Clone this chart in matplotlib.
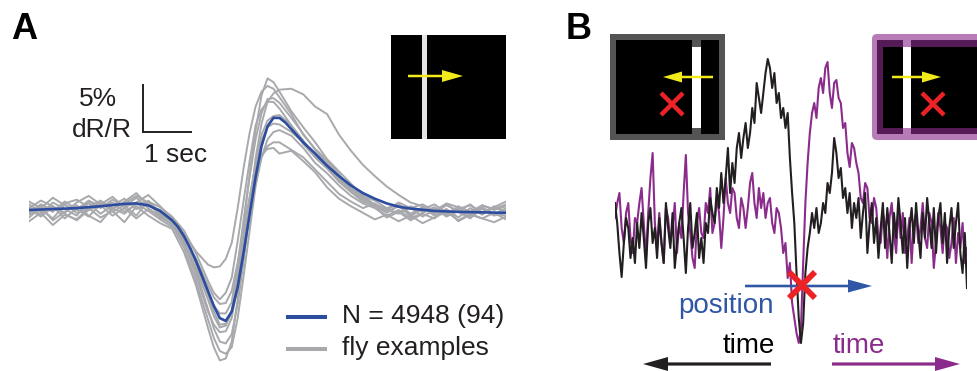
import matplotlib
matplotlib.use('Agg')
import numpy as np
import matplotlib.pyplot as plt
from matplotlib.patches import Rectangle, FancyArrow, FancyBboxPatch, PathPatch
from matplotlib.path import Path

plt.rcParams['font.family'] = ['Liberation Sans', 'DejaVu Sans']

# ---- panel A data: dR/R (%) vs time (s) ----
mean_time = [0, 0.5, 1.0, 1.5, 2.0, 2.25, 2.5, 2.75, 3.0, 3.125, 3.25, 3.375, 3.5, 3.625,
             3.75, 3.875, 4.0, 4.125, 4.25, 4.375, 4.5, 4.625, 4.75, 4.875, 5.0, 5.125,
             5.25, 5.375, 5.5, 5.625, 5.75, 5.875, 6.0, 6.25, 6.5, 6.75, 7.0, 7.25, 7.5,
             7.75, 8.0, 8.5, 9.0, 9.5, 10.0]
mean_trace = [0.0, 0.1, 0.2, 0.4, 0.65, 0.7, 0.5, -0.1, -1.1, -1.8, -2.8, -4.0, -5.4, -7.0,
              -8.6, -10.2, -11.5, -11.8, -10.8, -8.2, -4.5, -0.5, 3.5, 6.8, 8.9, 9.8,
              9.8, 9.3, 8.6, 7.9, 7.2, 6.6, 6.0, 4.7, 3.6, 2.6, 1.8, 1.2, 0.7,
              0.35, 0.15, -0.1, -0.2, -0.25, -0.3]

fly_time = ([0, 0.25, 0.5, 0.75, 1.0, 1.25, 1.5, 1.75, 2.0, 2.25, 2.5, 2.75, 3.0, 3.25, 3.5, 3.75]
            + [3.875, 4.0, 4.125, 4.25, 4.375, 4.5, 4.625, 4.75, 4.875, 5.0, 5.125]
            + [5.25, 5.5, 5.75, 6.0, 6.25, 6.5, 6.75, 7.0, 7.25, 7.5, 7.75, 8.0, 8.25, 8.5,
               8.75, 9.0, 9.25, 9.5, 9.75, 10.0])

fly_1 = [0.3, -0.5, 0.8, 0.1, -0.6, 0.9, 0.2, 1.1, 0.4, 1.3, 0.2, -0.8, -1.5, -3.6, -6.2, -9.5,
         -11.3, -12.5, -12.3, -10.8, -6.8, -1.5, 3.8, 8.5, 12.2, 14.0, 13.6,
         12.6, 10.5, 8.8, 7.2, 5.4, 4.1, 2.8, 1.5, 1.0, 0.2, 0.6, -0.4, 0.3, -0.6, 0.1, -0.8, 0.2, -0.5, 0.4, -0.3]
fly_2 = [-0.4, 0.5, -0.2, 0.9, 0.1, -0.7, 0.6, 1.4, 0.3, 0.8, 1.6, 0.4, -0.9, -2.5, -4.4, -5.8,
         -6.1, -6.0, -5.2, -3.5, 0.2, 4.5, 8.2, 11.0, 12.6, 13.2, 12.9,
         12.0, 10.2, 8.0, 6.5, 5.3, 3.8, 2.2, 1.6, 0.4, -0.3, 0.5, -0.7, 0.2, -0.4, 0.6, -0.2, -0.9, 0.3, -0.5, 0.2]
fly_3 = [-1.2, -0.3, -1.6, -0.5, -1.0, 0.2, -0.8, -0.1, -1.3, 0.4, -0.6, -1.4, -2.0, -4.5, -8.0, -12.5,
         -14.6, -16.0, -15.8, -14.0, -9.5, -4.5, 0.5, 5.0, 8.0, 9.5, 10.0,
         10.1, 9.0, 7.4, 5.6, 4.5, 3.2, 2.0, 1.1, 0.3, -0.8, -0.2, -1.1, -0.4, -0.9, 0.1, -1.2, -0.5, -0.9, -0.3, -1.0]
fly_4 = [0.6, -0.2, 0.4, -0.9, 0.2, 0.7, -0.4, 0.5, 1.2, 0.1, 0.6, -0.5, -1.2, -3.2, -6.5, -10.5,
         -12.6, -14.0, -14.2, -13.2, -10.0, -5.5, 0.0, 5.5, 9.2, 11.5, 12.4,
         12.8, 12.9, 12.3, 11.0, 10.2, 8.0, 6.3, 4.8, 3.6, 2.5, 1.6, 0.8, 0.4, -0.3, 0.5, -0.1, 0.6, -0.4, 0.3, 0.9]
fly_5 = [-0.8, 0.3, -1.1, -0.2, 0.5, -0.6, -1.3, 0.2, -0.4, 0.7, -0.1, -1.0, -1.8, -3.0, -5.2, -8.0,
         -9.3, -10.0, -9.9, -8.6, -5.6, -2.0, 1.4, 4.5, 5.9, 6.5, 6.6,
         6.0, 6.3, 5.2, 4.0, 2.4, 1.2, 0.4, -0.3, -1.0, -0.5, -1.2, -0.6, -1.4, -0.8, -0.2, -1.1, -0.4, -0.9, -1.3, -0.7]
fly_6 = [0.2, 1.0, 0.4, -0.3, 0.8, 1.5, 0.6, 0.1, 0.9, 1.8, 0.5, 0.0, -1.0, -3.4, -7.0, -10.8,
         -12.2, -13.0, -12.9, -11.5, -8.0, -3.8, 0.0, 3.5, 5.6, 6.8, 7.2,
         7.2, 6.4, 5.6, 4.3, 3.0, 1.7, 0.9, 0.2, 0.7, -0.2, 0.4, -0.5, 0.1, 0.6, -0.3, 0.2, -0.6, 0.5, 0.0, 0.4]
fly_7 = [-0.5, 0.1, -0.9, 0.6, -0.3, 0.2, 0.9, -0.2, 0.5, -0.6, 1.0, -0.3, -1.3, -3.0, -5.8, -8.8,
         -10.2, -11.0, -11.0, -9.8, -5.8, -1.0, 3.5, 7.5, 10.3, 11.8, 11.9,
         11.4, 9.8, 8.1, 6.4, 5.0, 3.6, 2.3, 1.4, 0.6, 0.1, -0.4, 0.3, -0.7, 0.0, -0.5, 0.4, -0.2, 0.1, -0.6, -0.2]
fly_8 = [0.1, -0.7, 0.3, -0.4, -1.1, 0.0, 0.5, -0.6, 0.2, -0.9, 0.1, -0.6, -1.6, -4.0, -7.6, -11.6,
         -13.6, -15.0, -15.3, -14.6, -11.5, -7.0, -2.2, 2.5, 5.6, 7.5, 8.3,
         8.5, 7.9, 6.6, 5.0, 3.9, 2.6, 1.5, 0.7, 0.2, -0.6, 0.0, -0.9, -0.3, 0.2, -0.7, -0.1, -0.8, 0.2, -0.4, -0.6]
fly_9 = [0.9, 0.2, 1.3, 0.5, 0.0, 1.0, 0.4, 0.8, -0.2, 0.6, 0.9, 0.3, -0.7, -2.2, -4.6, -7.5,
         -8.8, -9.5, -8.8, -7.2, -3.3, 1.0, 5.2, 9.0, 10.7, 11.5, 11.5,
         10.8, 9.0, 7.0, 5.6, 4.4, 3.0, 1.9, 0.9, 0.5, 0.0, 0.8, 0.2, 0.6, -0.1, 0.7, 0.3, -0.2, 0.5, 0.1, 0.6]
fly_10 = [-0.2, 0.6, 0.0, 0.7, 1.1, 0.3, 1.0, 0.2, 0.7, 1.5, 0.8, -0.3, -1.1, -2.8, -5.6, -9.0,
          -10.8, -12.2, -12.1, -11.0, -7.4, -3.0, 1.2, 5.0, 7.4, 8.8, 9.2,
          9.1, 8.3, 7.2, 5.8, 4.6, 3.3, 2.1, 1.3, 0.5, 0.0, -0.3, 0.4, -0.2, 0.3, -0.5, 0.1, 0.5, -0.3, 0.2, -0.1]
fly_examples = [fly_1, fly_2, fly_3, fly_4, fly_5, fly_6, fly_7, fly_8, fly_9, fly_10]

legend_labels = ['N = 4948 (94)', 'fly examples']

# ---- panel B data: single-trial responses (arbitrary units), 160 samples ----
resp_left = [30, 10, -20, -44, -10, 15, 5, -25, -5, -30,
             10, -15, 20, -5, -35, 10, 25, -10, 5, -25,
             15, -10, -30, 30, 5, -15, 20, -35, -10, 10,
             25, -5, -40, 5, 30, -15, 0, 20, -25, -5,
             -30, 10, 0, 35, 20, 10, 45, 25, 60, 30,
             55, 85, 40, 70, 50, 85, 100, 75, 95, 110,
             85, 100, 125, 110, 150, 135, 120, 140, 160, 174,
             165, 145, 160, 130, 140, 115, 125, 105, 120, 75,
             40, 10, -40, -85, -110, -90, -40, -15, 0, 20,
             5, 25, 0, 10, 30, 20, 50, 40, 60, 95,
             80, 55, 65, 35, 45, 20, 40, 5, 30, 15,
             35, -5, 20, 40, -20, 10, 30, -10, 15, -25,
             5, 30, -15, 25, 0, -30, 20, -5, 35, 10,
             -20, 15, -35, 5, 25, -10, 30, 0, -25, 20,
             -5, 35, 10, -15, 25, -20, 15, 30, -10, 20,
             -30, 5, 25, -15, 10, 30, -20, -40, 0, -55]
resp_right = [15, 30, 40, 5, -10, 20, 30, -5, -20, 15,
              10, 30, 45, 10, -25, 20, 55, 80, 10, -15,
              20, -10, -30, 25, 15, -10, 5, 30, -20, 10,
              -5, 40, 78, 20, 0, -25, -35, 10, 25, 0,
              -5, 30, 20, 45, 0, 10, 35, 20, -15, 15,
              55, 30, 20, 45, 40, 15, 5, 35, 25, 5,
              25, 50, 60, 30, 15, 45, 25, 40, 15, 30,
              35, 10, 0, 25, 20, 5, -20, -10, -45, -30,
              -70, -85, -100, -110, -95, -30, 30, 70, 100, 120,
              130, 115, 145, 155, 140, 165, 171, 140, 125, 150,
              153, 135, 130, 105, 110, 80, 66, 90, 85, 70,
              60, 35, 30, 50, 45, 15, 10, 35, 25, -5,
              -10, 20, 10, -25, 15, 30, 0, -20, 25, -5,
              20, -20, -5, 15, -30, 10, 20, -10, 5, 30,
              -5, -15, 20, 10, -35, -10, 20, 5, -20, 10,
              5, -25, -10, 15, -30, 0, -15, 10, -30, -15]

BLUE = '#2b4c9f'
GRAY = '#a8a9ad'
PURPLE = '#8b2c8c'
BLACK = '#231f20'
ARROW_BLUE = '#2f57a6'
RED = '#ed2224'
YELLOW = '#f2ea1a'

W, H = 977, 371
fig = plt.figure(figsize=(W / 100, H / 100), dpi=100)

# panel A traces: 0 s at x=29px, 47.7 px/s ; 0% at y=210px, 9.4 px per %
axA = fig.add_axes([29 / W, 0, 477 / W, 1])
axA.set_xlim(0, 10)
axA.set_ylim(-(H - 210) / 9.4, 210 / 9.4)
axA.axis('off')
for tr in fly_examples:
    axA.plot(fly_time, tr, color=GRAY, lw=1.4)
axA.plot(mean_time, mean_trace, color=BLUE, lw=1.9)
# scale bar 1 sec x 5 %
axA.plot([2.39, 2.39, 3.39], [13.3, 8.3, 8.3], color=BLACK, lw=1.4,
         solid_joinstyle='miter', clip_on=False)

# panel B traces
axB = fig.add_axes([615 / W, 0, 352 / W, 1])
axB.set_xlim(0, len(resp_left) - 1)
axB.set_ylim(-138, 233)
axB.axis('off')
axB.plot(np.arange(len(resp_right)), resp_right, color=PURPLE, lw=1.5)
axB.plot(np.arange(len(resp_left)), resp_left, color=BLACK, lw=1.5)

# overlay in pixel coordinates for all annotation artwork
ov = fig.add_axes([0, 0, 1, 1], zorder=5)
ov.set_xlim(0, W)
ov.set_ylim(H, 0)
ov.axis('off')


def arrow(x0, x1, y, color, shaft, hw, hl):
    ov.add_patch(FancyArrow(x0, y, x1 - x0, 0, width=shaft, head_width=hw,
                            head_length=hl, length_includes_head=True,
                            color=color, lw=0))


def cross(cx, cy, s, lw):
    ov.plot([cx - s, cx + s], [cy - s, cy + s], color=RED, lw=lw, solid_capstyle='butt')
    ov.plot([cx - s, cx + s], [cy + s, cy - s], color=RED, lw=lw, solid_capstyle='butt')


def area(v):
    v = np.asarray(v, dtype=float)
    return 0.5 * np.sum(v[:, 0] * np.roll(v[:, 1], -1) - np.roll(v[:, 0], -1) * v[:, 1])


def ring(outer, inner, color, alpha):
    # outer path with a rectangular hole (opposite winding)
    x0, y0, x1, y1 = inner
    iv = [(x0, y0), (x0, y1), (x1, y1), (x1, y0)]
    if np.sign(area(iv)) == np.sign(area(outer.vertices[:-1])):
        iv = iv[::-1]
    iv = iv + [iv[0]]
    inner_path = Path(iv, [Path.MOVETO] + [Path.LINETO] * 3 + [Path.CLOSEPOLY])
    p = Path.make_compound_path(outer, inner_path)
    ov.add_patch(PathPatch(p, facecolor=color, edgecolor='none', alpha=alpha))


# panel labels
ov.text(11, 39, 'A', fontsize=26, fontweight='bold', va='baseline', ha='left')
ov.text(566, 39, 'B', fontsize=26, fontweight='bold', va='baseline', ha='left')

# scale bar labels
ov.text(98, 106, '5%', fontsize=19, ha='center', va='baseline', color=BLACK)
ov.text(102, 137, 'dR/R', fontsize=19, ha='center', va='baseline', color=BLACK)
ov.text(176, 162, '1 sec', fontsize=19, ha='center', va='baseline', color=BLACK)

# legend for panel A
ov.plot([286, 327], [317, 317], color=BLUE, lw=2.9, solid_capstyle='butt')
ov.plot([286, 327], [349, 349], color=GRAY, lw=2.9, solid_capstyle='butt')
ov.text(342, 323, legend_labels[0], fontsize=19, va='baseline', color=BLACK)
ov.text(342, 355, legend_labels[1], fontsize=19, va='baseline', color=BLACK)

# inset A: bar moving right
ov.add_patch(Rectangle((391, 35), 115, 104, facecolor='black', lw=0))
ov.add_patch(Rectangle((422, 35), 5, 104, facecolor='#e4e4e4', lw=0))
arrow(408, 463, 76, YELLOW, 2.5, 12, 21)

# inset B left (dark gray frame)
ov.add_patch(Rectangle((616, 40), 103, 94, facecolor='black', lw=0))
ov.add_patch(Rectangle((692, 40), 9, 94, facecolor='white', lw=0))
outer_l = Path([(610, 34), (610, 140), (725, 140), (725, 34), (610, 34)],
               [Path.MOVETO] + [Path.LINETO] * 3 + [Path.CLOSEPOLY])
ring(outer_l, (622, 47, 713, 128), 'black', 0.67)
arrow(713, 663, 77, YELLOW, 2.5, 11, 19)
cross(672, 104, 11, 3.2)

# inset B right (purple frame)
ov.add_patch(Rectangle((877, 40), 120, 94, facecolor='black', lw=0))
ov.add_patch(Rectangle((903, 40), 8, 94, facecolor='white', lw=0))
outer_r = FancyBboxPatch((872, 34), 130, 106,
                         boxstyle='round,pad=0,rounding_size=5').get_path()
ring(outer_r, (883, 47, 1000, 128), PURPLE, 0.62)
arrow(892, 941, 77, YELLOW, 2.5, 11, 19)
cross(933, 104, 11, 3.2)

# panel B annotations
arrow(745, 872, 286, ARROW_BLUE, 2.6, 13, 24)
ov.text(678, 313, 'position', fontsize=20, va='baseline', color=ARROW_BLUE)
cross(802, 285, 13, 4.2)
ov.text(723, 353, 'time', fontsize=20, va='baseline', color='black')
ov.text(833, 353, 'time', fontsize=20, va='baseline', color=PURPLE)
arrow(771, 643, 364, BLACK, 3.2, 14, 25)
arrow(832, 960, 364, PURPLE, 3.2, 14, 25)

fig.savefig('out.png', dpi=100)
